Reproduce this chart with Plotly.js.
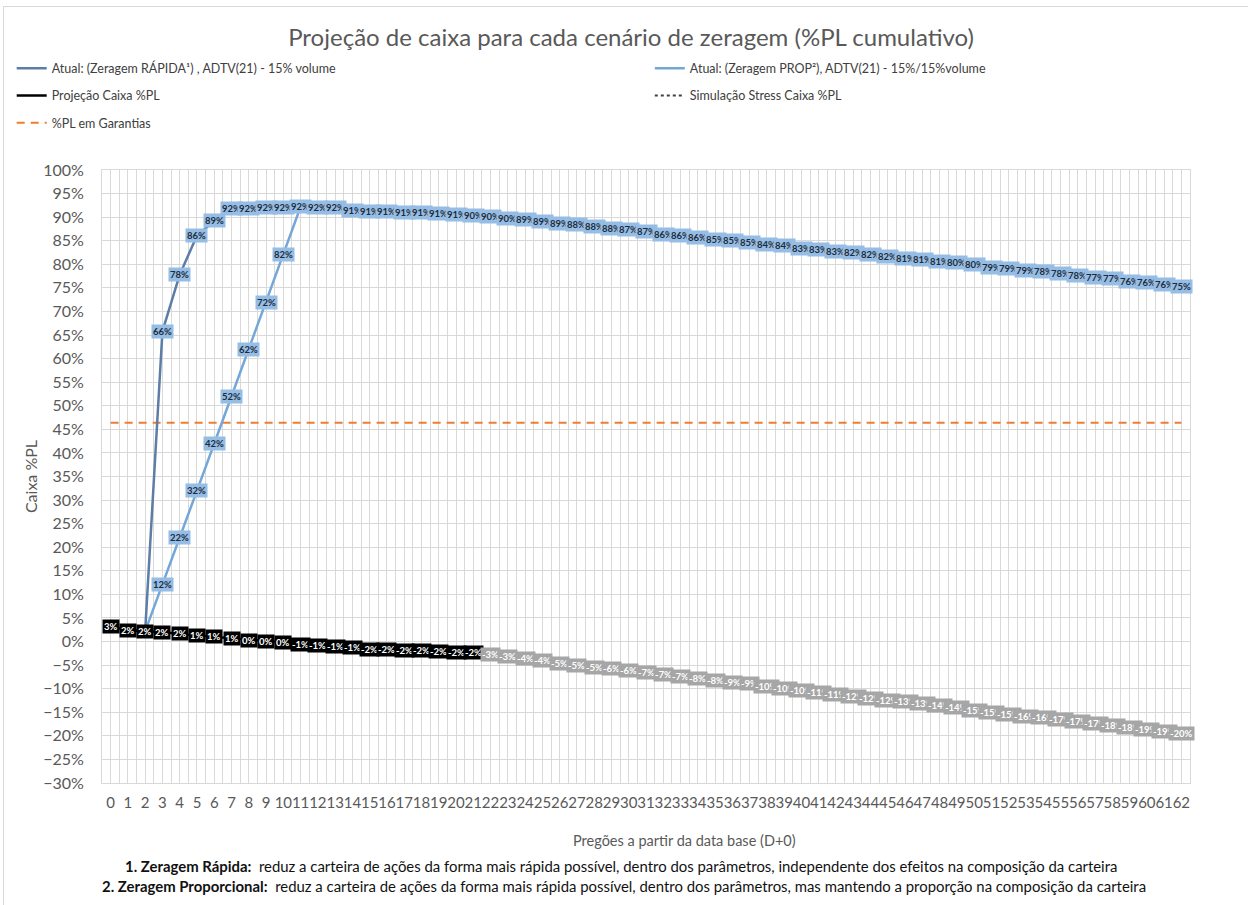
<!DOCTYPE html>
<html>
<head>
<meta charset="utf-8">
<script src="https://cdn.plot.ly/plotly-3.0.1.min.js"></script>
<style>
  html, body { margin: 0; padding: 0; background: #fff; }
  #frame { position: absolute; left: 3px; top: 6px; width: 1260px; height: 920px; border: 1px solid #d9d9d9; box-sizing: border-box; pointer-events: none; }
  #chart { position: absolute; left: 0; top: 0; width: 1248px; height: 905px; }
</style>
</head>
<body>
<div id="chart"></div>
<div id="frame"></div>
<script>
// ---- data ----
const dias = [0,1,2,3,4,5,6,7,8,9,10,11,12,13,14,15,16,17,18,19,20,21,22,23,24,25,26,27,28,29,30,31,32,33,34,35,36,37,38,39,40,41,42,43,44,45,46,47,48,49,50,51,52,53,54,55,56,57,58,59,60,61,62];
const diasLabels = ['0','1','2','3','4','5','6','7','8','9','10','11','12','13','14','15','16','17','18','19','20','21','22','23','24','25','26','27','28','29','30','31','32','33','34','35','36','37','38','39','40','41','42','43','44','45','46','47','48','49','50','51','52','53','54','55','56','57','58','59','60','61','62'];

const zeragemRapida = [null,null,2.2,65.8,77.8,86.1,89.2,91.8,91.9,92.0,92.1,92.2,92.1,92.0,91.4,91.2,91.1,91.0,90.9,90.8,90.6,90.4,90.1,89.8,89.4,89.1,88.7,88.4,88.1,87.7,87.3,87.0,86.4,86.1,85.7,85.3,85.0,84.6,84.3,83.9,83.4,83.1,82.7,82.4,82.0,81.6,81.3,81.0,80.6,80.3,79.9,79.4,79.1,78.7,78.4,78.0,77.6,77.3,76.9,76.4,76.1,75.7,75.3];

const zeragemProp = [null,null,2.2,12.0,22.0,32.0,42.0,52.0,62.0,72.0,82.0,92.2,92.1,92.0,91.4,91.2,91.1,91.0,90.9,90.8,90.6,90.4,90.1,89.8,89.4,89.1,88.7,88.4,88.1,87.7,87.3,87.0,86.4,86.1,85.7,85.3,85.0,84.6,84.3,83.9,83.4,83.1,82.7,82.4,82.0,81.6,81.3,81.0,80.6,80.3,79.9,79.4,79.1,78.7,78.4,78.0,77.6,77.3,76.9,76.4,76.1,75.7,75.3];

const projecaoCaixa = [3.2,2.4,2.2,2.0,1.6,1.3,1.0,0.6,0.3,0.0,-0.3,-0.6,-0.8,-1.0,-1.2,-1.6,-1.7,-1.8,-2.0,-2.1,-2.3,-2.4,null,null,null,null,null,null,null,null,null,null,null,null,null,null,null,null,null,null,null,null,null,null,null,null,null,null,null,null,null,null,null,null,null,null,null,null,null,null,null,null,null];

const stressCaixa = [null,null,null,null,null,null,null,null,null,null,null,null,null,null,null,null,null,null,null,null,null,-2.4,-2.7,-3.1,-3.6,-4.0,-4.6,-5.0,-5.4,-5.8,-6.2,-6.6,-7.0,-7.4,-7.8,-8.2,-8.6,-9.0,-9.6,-10.0,-10.4,-10.8,-11.2,-11.6,-12.0,-12.4,-12.8,-13.2,-13.6,-14.0,-14.6,-15.0,-15.4,-15.8,-16.2,-16.6,-17.0,-17.4,-17.8,-18.3,-18.7,-19.1,-19.6];

const plGarantias = [46.4,46.4,46.4,46.4,46.4,46.4,46.4,46.4,46.4,46.4,46.4,46.4,46.4,46.4,46.4,46.4,46.4,46.4,46.4,46.4,46.4,46.4,46.4,46.4,46.4,46.4,46.4,46.4,46.4,46.4,46.4,46.4,46.4,46.4,46.4,46.4,46.4,46.4,46.4,46.4,46.4,46.4,46.4,46.4,46.4,46.4,46.4,46.4,46.4,46.4,46.4,46.4,46.4,46.4,46.4,46.4,46.4,46.4,46.4,46.4,46.4,46.4,46.4];

// ---- styling ----
const FONT = "Lato, 'Liberation Sans', sans-serif";
const GREY = '#595959';
const GRID = '#d9d9d9';
const C_RAPIDA = '#5b7da6';
const C_PROP = '#74a7d8';
const C_LABEL_BLUE = '#95bde5';

const traces = [
  {x: dias, y: plGarantias, name: '%PL em Garantias', mode: 'lines', legend: 'legend', legendgroup: 'g3', legendrank: 3,
   line: {color: '#ed7d31', width: 2, dash: '8px,6px'}, hoverinfo: 'skip'},
  {x: dias, y: stressCaixa, name: 'Simulação Stress Caixa %PL', mode: 'lines', legend: 'legend2', legendgroup: 'g5', legendrank: 2,
   line: {color: '#404040', width: 2, dash: 'dot'}},
  {x: dias, y: projecaoCaixa, name: 'Projeção Caixa %PL', mode: 'lines', legend: 'legend', legendgroup: 'g2', legendrank: 2,
   line: {color: '#000000', width: 2.5}},
  {x: dias, y: zeragemProp, name: 'Atual: (Zeragem PROP²), ADTV(21) - 15%/15%volume', mode: 'lines', legend: 'legend2', legendgroup: 'g4', legendrank: 1,
   line: {color: C_PROP, width: 2.5}},
  {x: dias, y: zeragemRapida, name: 'Atual: (Zeragem RÁPIDA¹) , ADTV(21) - 15% volume', mode: 'lines', legend: 'legend', legendgroup: 'g1', legendrank: 1,
   line: {color: C_RAPIDA, width: 2.5}}
];

// data labels (drawn through the axes from the series)
const annotations = [];
function addLabels(values, bg, fg, skipFn) {
  values.forEach((v, i) => {
    if (v === null || (skipFn && skipFn(i, v))) return;
    const r = Math.round(v);
    annotations.push({
      x: dias[i], y: v, xref: 'x', yref: 'y', text: (r === 0 ? 0 : r) + '%', showarrow: false,
      bgcolor: bg, borderpad: 1, font: {family: FONT, size: 9.5, color: fg, weight: 'bold'}
    });
  });
}
addLabels(projecaoCaixa, '#000000', '#ffffff');
addLabels(stressCaixa, '#a6a6a6', '#ffffff', (i) => projecaoCaixa[i] !== null);
addLabels(zeragemProp, C_LABEL_BLUE, '#1d2b3a', (i, v) => projecaoCaixa[i] === v || zeragemRapida[i] === v);
addLabels(zeragemRapida, C_LABEL_BLUE, '#1d2b3a', (i, v) => projecaoCaixa[i] === v);

// x-axis title (placed as in the reference) and footnotes
annotations.push({
  xref: 'paper', yref: 'paper', x: (683 - 99) / 1091, y: (783 - 841) / 613, xanchor: 'center', yanchor: 'middle', showarrow: false,
  text: 'Pregões a partir da data base (D+0)', font: {family: FONT, size: 14.5, color: GREY}
});
annotations.push({
  xref: 'paper', yref: 'paper', x: (619 - 99) / 1091, y: (783 - 866) / 613, xanchor: 'center', yanchor: 'middle', showarrow: false,
  text: '<b>1. Zeragem Rápida:</b>  reduz a carteira de ações da forma mais rápida possível, dentro dos parâmetros, independente dos efeitos na composição da carteira',
  font: {family: FONT, size: 14.9, color: '#111111'}
});
annotations.push({
  xref: 'paper', yref: 'paper', x: (622 - 99) / 1091, y: (783 - 886) / 613, xanchor: 'center', yanchor: 'middle', showarrow: false,
  text: '<b>2. Zeragem Proporcional:</b>  reduz a carteira de ações da forma mais rápida possível, dentro dos parâmetros, mas mantendo a proporção na composição da carteira',
  font: {family: FONT, size: 14.9, color: '#111111'}
});

const layout = {
  width: 1248, height: 905,
  margin: {l: 99, r: 58, t: 170, b: 122},
  paper_bgcolor: '#ffffff', plot_bgcolor: '#ffffff',
  font: {family: FONT, color: GREY},
  title: {text: 'Projeção de caixa para cada cenário de zeragem (%PL cumulativo)',
          x: 631 / 1248, xref: 'container', xanchor: 'center', y: 1 - 38 / 905, yref: 'container', yanchor: 'middle',
          font: {family: FONT, size: 24, color: GREY}},
  showlegend: true,
  legend: {x: -0.083, y: 1.19, xanchor: 'left', yanchor: 'top', orientation: 'v', traceorder: 'grouped', tracegroupgap: 8,
           font: {family: FONT, size: 12.5, color: '#404040'}, bgcolor: 'rgba(0,0,0,0)'},
  legend2: {x: 0.5035, y: 1.19, xanchor: 'left', yanchor: 'top', orientation: 'v', traceorder: 'grouped', tracegroupgap: 8,
           font: {family: FONT, size: 12.5, color: '#404040'}, bgcolor: 'rgba(0,0,0,0)'},
  xaxis: {
    range: [-0.5, 62.5], tickmode: 'array', tickvals: dias, ticktext: diasLabels, tickangle: 0,
    showgrid: true, gridcolor: GRID, gridwidth: 1, zeroline: false,
    showline: true, linecolor: GRID, mirror: true, ticks: '', ticklabelstandoff: 6,
    minor: {tickmode: 'linear', tick0: -0.5, dtick: 1, showgrid: true, gridcolor: GRID, gridwidth: 1, ticks: ''},
    tickfont: {family: FONT, size: 15, color: GREY}
  },
  yaxis: {
    range: [-30, 100], tickmode: 'linear', tick0: 0, dtick: 5, ticksuffix: '%',
    showgrid: true, gridcolor: GRID, gridwidth: 1, zeroline: false,
    showline: true, linecolor: GRID, mirror: true, ticks: '', ticklabelstandoff: 14,
    tickfont: {family: FONT, size: 16, color: GREY},
    automargin: true,
    title: {text: 'Caixa %PL', standoff: 1, font: {family: FONT, size: 16, color: GREY}}
  },
  annotations: annotations
};

Plotly.newPlot('chart', traces, layout, {displayModeBar: false, responsive: false});
</script>
</body>
</html>
